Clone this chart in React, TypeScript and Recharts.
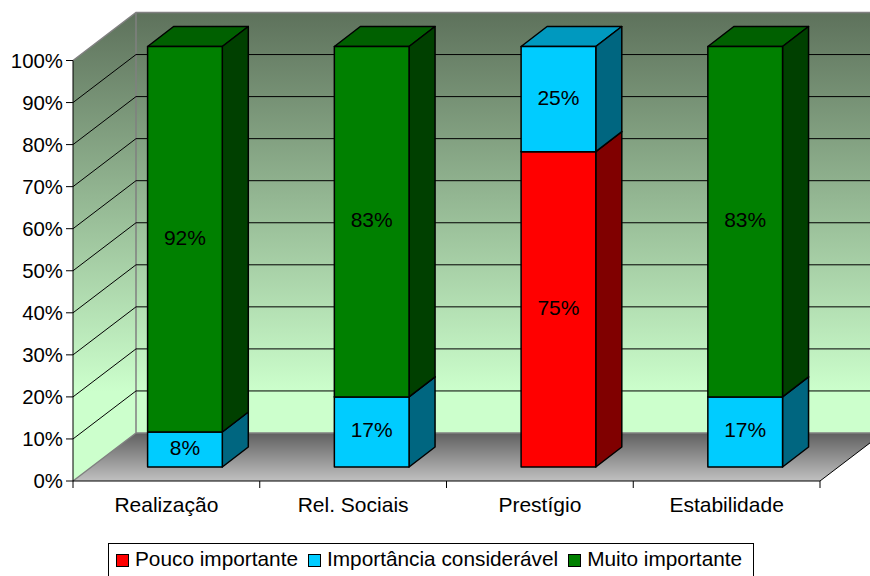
import { Bar, BarChart, CartesianGrid, Legend, XAxis, YAxis } from 'recharts';

const categories = ['Realização', 'Rel. Sociais', 'Prestígio', 'Estabilidade'];
const poucoImportante = [0, 0, 75, 0];
const importanciaConsideravel = [8.33, 16.67, 25, 16.67];
const muitoImportante = [91.67, 83.33, 0, 83.33];
const percentTicks = [0, 10, 20, 30, 40, 50, 60, 70, 80, 90, 100];

const data = categories.map((name, i) => ({
  name,
  pouco: poucoImportante[i],
  consideravel: importanciaConsideravel[i],
  muito: muitoImportante[i],
}));

const W = 870;
const H = 576;
const FONT = '"Liberation Sans", Arial, sans-serif';
const FONT_SIZE = 21;

// depth of the fake 3D box, and of a column inside it
const BOX_DX = 63;
const BOX_DY = 48;
const COL_SHIFT_X = 18.6;
const COL_SHIFT_Y = 14;
const COL_DX = 26;
const COL_DY = 20;
const PLOT_W = 747;

function wallsAndFloor(p: any) {
  if (p.index !== 0) return <g />;
  const { x, y, width, height } = p;
  const bottom = y + height;
  const right = x + width;
  return (
    <g>
      <rect x={x + BOX_DX} y={y - BOX_DY} width={width} height={height} fill="url(#wallFill)" />
      <polygon points={`${x},${y} ${x + BOX_DX},${y - BOX_DY} ${x + BOX_DX},${bottom - BOX_DY} ${x},${bottom}`} fill="url(#wallFill)" />
      <polygon points={`${x},${bottom} ${right},${bottom} ${right + BOX_DX},${bottom - BOX_DY} ${x + BOX_DX},${bottom - BOX_DY}`} fill="url(#floorFill)" />
      <path
        d={`M${x},${y} L${x + BOX_DX},${y - BOX_DY} L${W},${y - BOX_DY} M${x + BOX_DX},${y - BOX_DY} V${bottom - BOX_DY} H${W} M${x},${bottom} L${x + BOX_DX},${bottom - BOX_DY}`}
        fill="none"
        stroke="#808080"
        strokeWidth={1.5}
      />
      <path d={`M${right},${bottom} L${right + BOX_DX},${bottom - BOX_DY}`} stroke="#000" strokeWidth={1} />
    </g>
  );
}

function wallLine(p: any) {
  const { x, y, height, y1 } = p;
  if (y1 <= y + 1 || y1 >= y + height - 1) return <g />;
  return (
    <path
      d={`M${x},${y1} L${x + BOX_DX},${y1 - BOX_DY} H${W}`}
      fill="none"
      stroke="#000"
      strokeWidth={1}
    />
  );
}

function Column({ x, y, width, height, value, front, side, top }: any) {
  if (!height || height <= 0) return null;
  const l = x + COL_SHIFT_X;
  const t = y - COL_SHIFT_Y;
  const r = l + width;
  const b = t + height;
  return (
    <g stroke="#000" strokeWidth={1.5} strokeLinejoin="round">
      <polygon points={`${l},${t} ${r},${t} ${r + COL_DX},${t - COL_DY} ${l + COL_DX},${t - COL_DY}`} fill={top} />
      <polygon points={`${r},${t} ${r + COL_DX},${t - COL_DY} ${r + COL_DX},${b - COL_DY} ${r},${b}`} fill={side} />
      <rect x={l} y={t} width={width} height={height} fill={front} />
      <text
        x={l + width / 2}
        y={t + height / 2 - 2}
        textAnchor="middle"
        dominantBaseline="central"
        fontFamily={FONT}
        fontSize={FONT_SIZE}
        fill="#000"
        stroke="none"
      >
        {Math.round(value)}%
      </text>
    </g>
  );
}

function CategoryTick({ x, y, payload, index }: any) {
  const band = PLOT_W / categories.length;
  const left = x - band / 2;
  return (
    <g>
      <line x1={left} y1={y} x2={left} y2={y + 7} stroke="#000" />
      {index === categories.length - 1 && <line x1={left + band} y1={y} x2={left + band} y2={y + 7} stroke="#000" />}
      <text x={x} y={y + 31} textAnchor="middle" fontFamily={FONT} fontSize={FONT_SIZE} fill="#000">
        {payload.value}
      </text>
    </g>
  );
}

function LegendBox({ payload }: any) {
  return (
    <div
      style={{
        boxSizing: 'border-box',
        height: '100%',
        border: '1px solid #000',
        background: '#fff',
        display: 'flex',
        alignItems: 'flex-start',
        paddingLeft: 7,
        paddingTop: 3,
        fontFamily: FONT,
        fontSize: 20.8,
        color: '#000',
        whiteSpace: 'nowrap',
      }}
    >
      {(payload || []).map((item: any) => (
        <span key={item.value} style={{ display: 'inline-flex', alignItems: 'center', marginRight: 10 }}>
          <span style={{ boxSizing: 'border-box', width: 13, height: 13, marginTop: 2, background: item.color, border: '1.5px solid #000', marginRight: 6 }} />
          {item.value}
        </span>
      ))}
    </div>
  );
}

const seriesStyle = {
  pouco: { front: '#FF0000', side: '#800000', top: '#BF0000' },
  consideravel: { front: '#00CCFF', side: '#006680', top: '#0099BF' },
  muito: { front: '#008000', side: '#004000', top: '#006000' },
};

export default function App() {
  return (
    <div style={{ position: 'absolute', left: 0, top: 0, width: W, height: H, background: '#fff', overflow: 'hidden' }}>
      <BarChart
        width={W}
        height={H}
        data={data}
        barSize={74.7}
        margin={{ top: 60.5, right: 50, bottom: 65, left: 0 }}
      >
        <defs>
          <linearGradient id="wallFill" gradientUnits="userSpaceOnUse" x1="0" y1="14" x2="0" y2="392">
            <stop offset="0%" stopColor="#5E725C" />
            <stop offset="100%" stopColor="#CCFFCC" />
          </linearGradient>
          <linearGradient id="floorFill" x1="0" y1="0" x2="0" y2="1">
            <stop offset="0%" stopColor="#606060" />
            <stop offset="100%" stopColor="#C0C0C0" />
          </linearGradient>
        </defs>
        <CartesianGrid horizontal={wallsAndFloor} vertical={false} />
        <CartesianGrid horizontal={wallLine} vertical={false} />
        <XAxis
          dataKey="name"
          height={30}
          interval={0}
          tickSize={0}
          tickMargin={0}
          stroke="#000"
          tick={<CategoryTick />}
        />
        <YAxis
          width={73}
          domain={[0, 100]}
          ticks={percentTicks}
          interval={0}
          tickSize={7}
          tickMargin={3}
          stroke="#000"
          tickFormatter={(v) => `${v}%`}
          tick={{ fontFamily: FONT, fontSize: 20.4, fill: '#000' }}
        />
        <Bar dataKey="pouco" name="Pouco importante" stackId="a" fill="#FF0000" isAnimationActive={false}
          shape={(p: any) => <Column {...p} value={p.payload.pouco} {...seriesStyle.pouco} />} />
        <Bar dataKey="consideravel" name="Importância considerável" stackId="a" fill="#00CCFF" isAnimationActive={false}
          shape={(p: any) => <Column {...p} value={p.payload.consideravel} {...seriesStyle.consideravel} />} />
        <Bar dataKey="muito" name="Muito importante" stackId="a" fill="#008000" isAnimationActive={false}
          shape={(p: any) => <Column {...p} value={p.payload.muito} {...seriesStyle.muito} />} />
        <Legend
          layout="horizontal"
          align="center"
          verticalAlign="middle"
          itemSorter={null}
          content={<LegendBox />}
          wrapperStyle={{ left: 108, top: 543, width: 646, height: 40, margin: 0 }}
        />
      </BarChart>
    </div>
  );
}
